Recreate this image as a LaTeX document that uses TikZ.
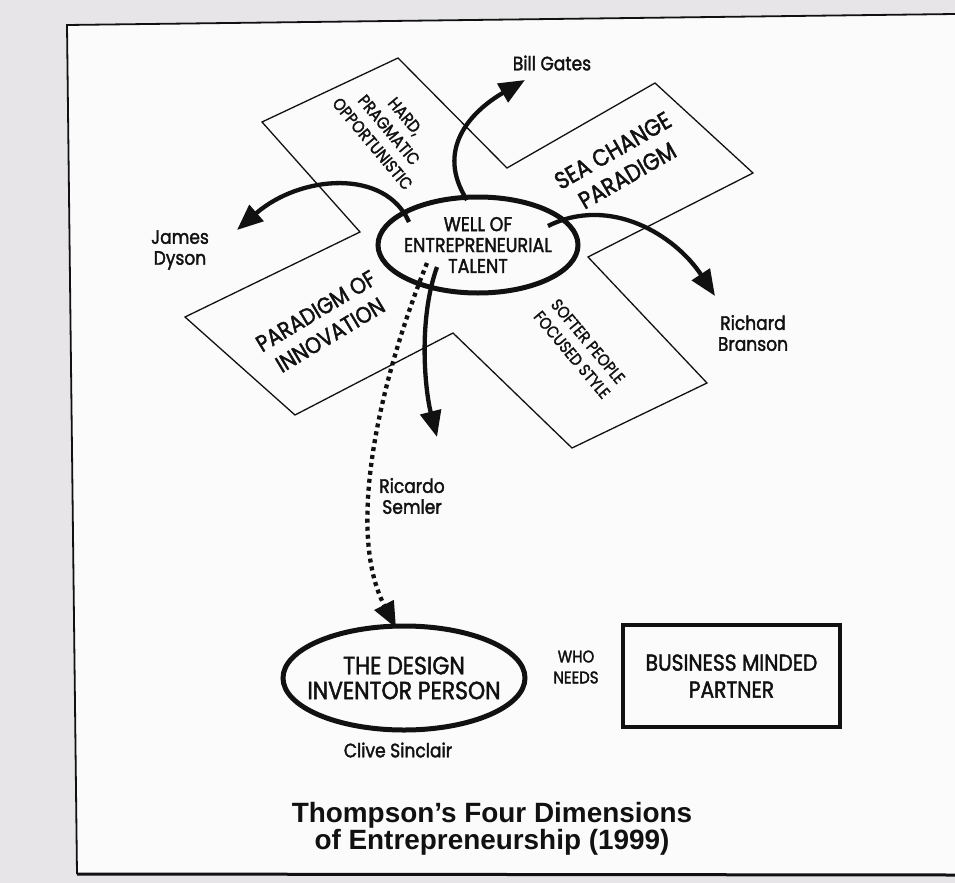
\documentclass[tikz,border=0pt]{standalone}
\usepackage{fontspec}
\setmainfont{Liberation Sans}
\newfontfamily\gothic[FakeStretch=0.88,FakeBold=1.8]{Poppins}
\usetikzlibrary{arrows.meta,shapes.geometric}
\definecolor{paper}{HTML}{FBFBFB}
\definecolor{margin}{HTML}{E7E5E8}
\definecolor{ink}{HTML}{111111}
\begin{document}
\begin{tikzpicture}[x=1bp,y=-1bp,
  txt/.style={font=\gothic\fontsize{19.5}{21}\selectfont, align=center, inner sep=0pt, text=ink},
  arm/.style={draw=ink, line width=1.3bp, line join=miter},
  flow/.style={draw=ink, line width=4.3bp, -{Triangle[length=26bp,width=21bp]}},
  dotflow/.style={flow, dash pattern=on 4bp off 4bp},
  ring/.style={ellipse, draw=ink, line width=5bp, fill=paper, inner ysep=0pt, align=center, text=ink},
  heading/.style={font=\bfseries\fontsize{28}{27}\selectfont, align=center, inner sep=0pt, text=ink}]
\useasboundingbox (0,0) rectangle (955,883);

% page and frame
\fill[margin] (0,0) rectangle (955,883);
\fill[paper] (67,25) -- (955,14) -- (955,875) -- (77,874) -- cycle;
\draw[ink, line width=1.8bp] (955,14) -- (67,25) -- (77,874);
\draw[ink, line width=3bp] (77,874) -- (955,875);

% four-armed pinwheel
\draw[arm] (398,58) -- (507,168) -- (655,83) -- (753,173) -- (588,257)
  -- (707,383) -- (572,448) -- (453,333) -- (295,415) -- (185,317)
  -- (360,232) -- (262,122) -- cycle;

% arm captions
\node[txt, rotate=-50, font=\gothic\fontsize{17}{21.5}\selectfont] (hard) at (389,130) {HARD,\\PRAGMATIC\\OPPORTUNISTIC};
\node[txt, rotate=30, font=\gothic\fontsize{24}{29}\selectfont] (sea) at (620,163) {SEA CHANGE\\PARADIGM};
\node[txt, rotate=31, font=\gothic\fontsize{23}{28}\selectfont] (innov) at (323,323) {PARADIGM OF\\INNOVATION};
\node[txt, rotate=-50, font=\gothic\fontsize{16.5}{21}\selectfont] (softer) at (580,348) {SOFTER PEOPLE\\FOCUSED STYLE};

% central well
\node[ring, inner xsep=-8bp, minimum width=200bp, minimum height=96bp,
      font=\gothic\fontsize{20}{21}\selectfont] (well) at (478,245)
  {WELL OF\\ENTREPRENEURIAL\\TALENT};

% people
\node[txt] (gates) at (552,63) {Bill Gates};
\node[txt] (dyson) at (180,250) {James\\Dyson};
\node[txt] (branson) at (753,333) {Richard\\Branson};
\node[txt] (semler) at (412,496) {Ricardo\\Semler};

% lower row
\node[ring, inner xsep=-14bp, minimum width=242bp, minimum height=104bp,
      font=\gothic\fontsize{25}{25}\selectfont] (design) at (404,678)
  {THE DESIGN\\INVENTOR PERSON};
\node[txt, font=\gothic\fontsize{17}{21}\selectfont] (needs) at (576,667) {WHO\\NEEDS};
\node[draw=ink, line width=3.5bp, minimum width=217bp, minimum height=102bp,
      align=center, text=ink, font=\gothic\fontsize{23}{27}\selectfont] (partner) at (731.5,676)
  {BUSINESS MINDED\\PARTNER};
\node[txt] (clive) at (398,750) {Clive Sinclair};

\node[heading] (title) at (492,829) {Thompson’s Four Dimensions\\of Entrepreneurship (1999)};

% arrow ends
\coordinate (gFrom) at (467,200);
\coordinate (gTip) at (525,80);
\coordinate (jFrom) at (409,222);
\coordinate (jTip) at (237,230);
\coordinate (rFrom) at (548,226);
\coordinate (rTip) at (715,296);
\coordinate (sFrom) at (437,267);
\coordinate (sTip) at (437,437);
\coordinate (dFrom) at (427,263);
\coordinate (dTip) at (396,628);

\draw[flow] (gFrom) .. controls (435,150) and (470,112) .. (gTip);
\draw[flow] (jFrom) .. controls (385,168) and (300,175) .. (jTip);
\draw[flow] (rFrom) .. controls (610,195) and (675,235) .. (rTip);
\draw[flow] (sFrom) .. controls (418,320) and (425,390) .. (sTip);
\draw[dotflow] (dFrom) .. controls (380,380) and (345,530) .. (dTip);
\end{tikzpicture}
\end{document}
